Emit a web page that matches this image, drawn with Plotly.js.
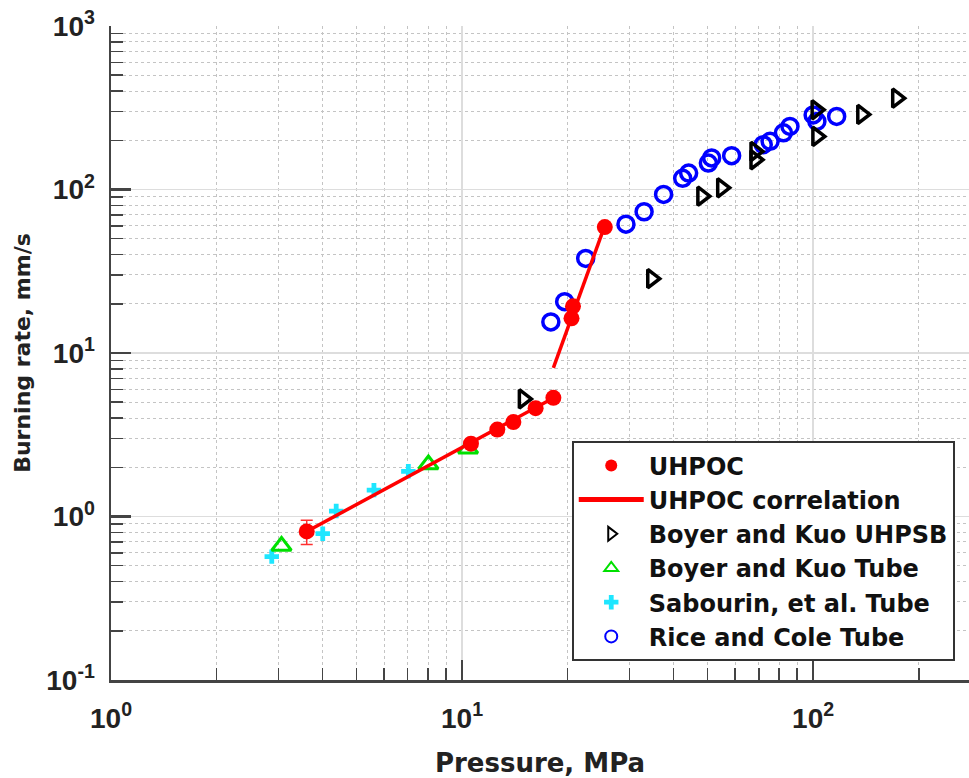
<!DOCTYPE html>
<html>
<head>
<meta charset="utf-8">
<script src="https://cdn.plot.ly/plotly-3.0.1.min.js"></script>
<style>html,body{margin:0;padding:0;background:#fff;}#chart{width:969px;height:778px;}</style>
</head>
<body>
<div id="chart"></div>
<script>
// UHPOC measured points
const uhpocP = [3.61, 10.6, 12.6, 14.0, 16.2, 18.2, 20.5, 20.7, 25.5];
const uhpocR = [0.81, 2.79, 3.40, 3.78, 4.60, 5.32, 16.3, 19.3, 58.9];
const uhpocErrPlus = [0.14, 0, 0, 0, 0, 0, 0, 0, 0];
const uhpocErrMinus = [0.135, 0, 0, 0, 0, 0, 0, 0, 0];
// UHPOC correlation (two segments)
const corrP = [3.61, 18.2, null, 18.2, 25.2];
const corrR = [0.81, 5.3, null, 8.1, 56];
// Boyer and Kuo UHPSB
const bkUhpsbP = [14.95, 34.7, 48.2, 54.9, 68.3, 68.3, 102, 102.5, 137.6, 173];
const bkUhpsbR = [5.24, 28.5, 91, 102.4, 152, 171, 307, 211, 288, 362];
// Boyer and Kuo Tube
const bkTubeP = [3.06, 8.02, 10.4];
const bkTubeR = [0.66, 2.08, 2.60];
// Sabourin, et al. Tube
const sabP = [2.87, 4.01, 4.38, 5.61, 7.03];
const sabR = [0.568, 0.785, 1.08, 1.45, 1.89];
// Rice and Cole Tube
const riceP = [17.9, 19.6, 22.5, 29.3, 33.0, 37.5, 42.5, 44.2, 50.3, 51.4, 58.6, 72.1, 75.4, 82.3, 85.9, 100, 102.5, 116.7];
const riceR = [15.5, 20.6, 37.9, 61.4, 73.1, 93.3, 117, 126, 145, 156, 161, 188, 197, 222, 243, 286, 261, 280];
// tick labels
const xTickVals = [1, 10, 100];
const xTickText = ['10<sup>0</sup>', '10<sup>1</sup>', '10<sup>2</sup>'];
const yTickVals = [0.1, 1, 10, 100, 1000];
const yTickText = ['10<sup>-1</sup>', '10<sup>0</sup>', '10<sup>1</sup>', '10<sup>2</sup>', '10<sup>3</sup>'];

function minorVals(lo, hi) {
  const v = [];
  for (let e = lo; e < hi; e++) for (let m = 2; m <= 9; m++) v.push(m * Math.pow(10, e));
  return v;
}

const legFont = {family: 'DejaVu Sans', size: 24, weight: 'bold', color: '#111'};

const traces = [
  {x: sabP, y: sabR, mode: 'markers', name: 'Sabourin, et al. Tube', legendrank: 5, legendgroup: 'e',
   marker: {symbol: 'cross', size: 12, color: '#1ee6ff', line: {width: 0}}},
  {x: bkTubeP, y: bkTubeR, mode: 'markers', name: 'Boyer and Kuo Tube', legendrank: 4, legendgroup: 'd',
   marker: {symbol: 'triangle-up-open', size: 17, color: '#00e000', line: {width: 3, color: '#00e000'}}},
  {x: riceP, y: riceR, mode: 'markers', name: 'Rice and Cole Tube', legendrank: 6, legendgroup: 'f',
   marker: {symbol: 'circle-open', size: 16, color: '#0000ff', line: {width: 3.5, color: '#0000ff'}}},
  {x: bkUhpsbP, y: bkUhpsbR, mode: 'markers', name: 'Boyer and Kuo UHPSB', legendrank: 3, legendgroup: 'c',
   marker: {symbol: 'triangle-right-open', size: 16, color: '#000', line: {width: 3.5, color: '#000'}}},
  {x: corrP, y: corrR, mode: 'lines', name: 'UHPOC correlation', legendrank: 2, legendgroup: 'b',
   connectgaps: false, line: {color: '#ff0000', width: 3.5}},
  {x: uhpocP, y: uhpocR, mode: 'markers', name: 'UHPOC', legendrank: 1, legendgroup: 'a',
   marker: {symbol: 'circle', size: 16, color: '#ff0000'},
   error_y: {type: 'data', symmetric: false, array: uhpocErrPlus, arrayminus: uhpocErrMinus,
             color: '#ff3030', thickness: 1.5, width: 6}}
];

const axisCommon = {
  type: 'log',
  showline: true, linecolor: '#444', linewidth: 2.5,
  ticks: 'inside', ticklen: 20, tickwidth: 2.5, tickcolor: '#444',
  tickmode: 'array',
  showgrid: true, gridcolor: '#dddddd', gridwidth: 1.5,
  zeroline: false, mirror: false,
  tickfont: {family: 'Liberation Sans', size: 28, weight: 'bold', color: '#222'}
};

const layout = {
  width: 969, height: 778,
  margin: {l: 111, r: 0, t: 26, b: 98},
  paper_bgcolor: '#fff', plot_bgcolor: '#fff',
  showlegend: true,
  xaxis: Object.assign({}, axisCommon, {
    range: [0, 2.444],
    tickvals: xTickVals, ticktext: xTickText,
    ticklabelstandoff: 12,
    minor: {tickmode: 'array', tickvals: minorVals(0, 3), ticks: 'inside', ticklen: 12, tickwidth: 1.5,
            tickcolor: '#444', showgrid: true, gridcolor: '#c4c4c4', gridwidth: 1, griddash: 'dot'},
    title: {text: 'Pressure, MPa', standoff: 22,
            font: {family: 'DejaVu Sans', size: 26, weight: 'bold', color: '#222'}}
  }),
  yaxis: Object.assign({}, axisCommon, {
    range: [-1, 3],
    tickvals: yTickVals, ticktext: yTickText,
    ticklabelstandoff: 8,
    minor: {tickmode: 'array', tickvals: minorVals(-1, 3), ticks: 'inside', ticklen: 12, tickwidth: 1.5,
            tickcolor: '#444', showgrid: true, gridcolor: '#c4c4c4', gridwidth: 1, griddash: 'dot'},
    title: {text: 'Burning rate, mm/s', standoff: 10,
            font: {family: 'DejaVu Sans', size: 22, weight: 'bold', color: '#222'}}
  }),
  legend: {
    x: 0.537, y: 0.365, xanchor: 'left', yanchor: 'top',
    bgcolor: '#fff', bordercolor: '#333', borderwidth: 2,
    font: legFont, traceorder: 'grouped', tracegroupgap: 0,
    itemwidth: 65, itemsizing: 'constant'
  }
};

Plotly.newPlot('chart', traces, layout, {displayModeBar: false, staticPlot: true});
</script>
</body>
</html>
